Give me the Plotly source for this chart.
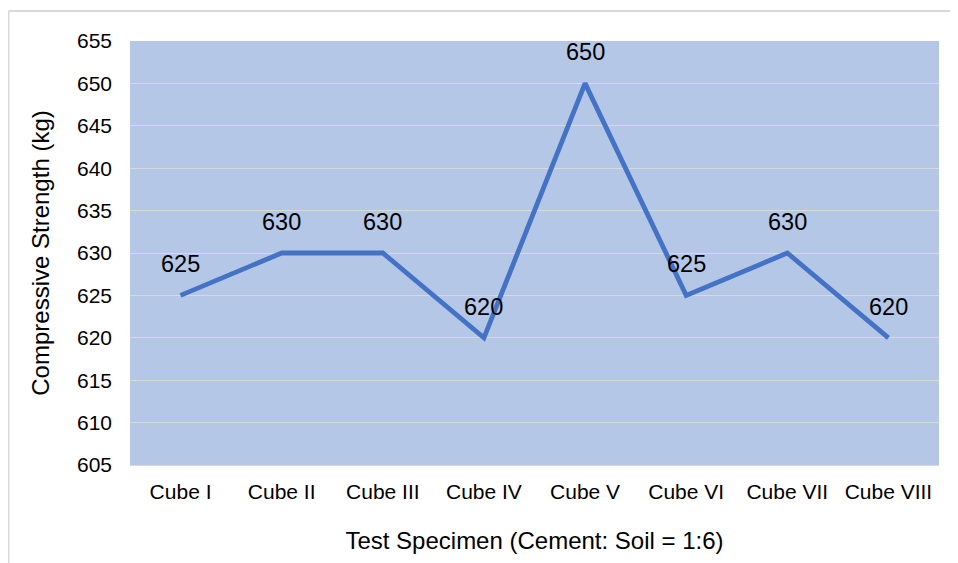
import plotly.graph_objects as go

categories = ["Cube I", "Cube II", "Cube III", "Cube IV", "Cube V", "Cube VI", "Cube VII", "Cube VIII"]
strength = [625, 630, 630, 620, 650, 625, 630, 620]
y_ticks = [605, 610, 615, 620, 625, 630, 635, 640, 645, 650, 655]

fig = go.Figure()
fig.add_trace(go.Scatter(
    x=categories, y=strength, mode="lines",
    line=dict(color="#4472c4", width=4.8),
    hoverinfo="x+y", showlegend=False,
))

for c, v in zip(categories, strength):
    fig.add_annotation(x=c, y=v, text=str(v), showarrow=False, yshift=31,
                       font=dict(size=23.5, color="#000000", family="Liberation Sans, Arial"))

fig.update_layout(
    width=950, height=555,
    margin=dict(l=122, r=19, t=33, b=98),
    paper_bgcolor="white",
    plot_bgcolor="#b4c7e7",
    font=dict(family="Liberation Sans, Arial", color="#000000"),
    xaxis=dict(
        type="category", range=[-0.5, len(categories) - 0.5],
        showgrid=False, zeroline=False,
        showline=True, linecolor="#d9d9d9", linewidth=1,
        tickfont=dict(size=21), ticks="", ticklabelstandoff=8,
        title=dict(text="Test Specimen (Cement: Soil = 1:6)", font=dict(size=24), standoff=29),
    ),
    yaxis=dict(
        range=[605, 655], tickvals=y_ticks, showgrid=True, gridcolor="#d9d9d9", gridwidth=1.2,
        zeroline=False, tickfont=dict(size=21), ticks="", ticklabelstandoff=17,
        title=dict(text="Compressive Strength (kg)", font=dict(size=24), standoff=20),
    ),
)

# outer chart border (top and left edges visible)
fig.add_shape(type="line", xref="paper", yref="paper", x0=-0.1502, x1=1.05, y0=1.0708, y1=1.0708,
              line=dict(color="#d9d9d9", width=2), layer="below")
fig.add_shape(type="line", xref="paper", yref="paper", x0=-0.1502, x1=-0.1502, y0=-0.3, y1=1.0708,
              line=dict(color="#d9d9d9", width=2), layer="below")

fig.write_html("out.html")
